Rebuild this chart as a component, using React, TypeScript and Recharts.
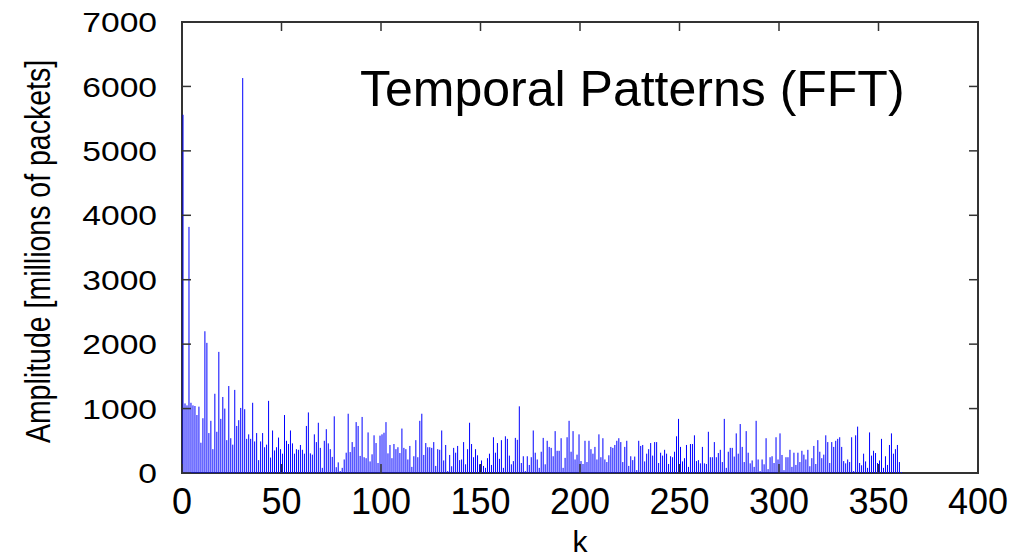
import React from "react";
import { BarChart, Bar, XAxis, YAxis, ReferenceArea, Label } from "recharts";

// FFT amplitude per frequency bin k in strips
const ampK0to52 = [
  5560, 1080, 1050, 3820, 1090, 1050, 1040, 900, 1030, 470, 850, 2200, 2020, 620, 810, 370, 1230, 640,
  1880, 840, 1180, 1000, 510, 1350, 540, 440, 1290, 730, 820, 1010, 6130, 990, 530, 600, 530, 1090,
  490, 620, 200, 490, 620, 400, 440, 1120, 240, 660, 350, 400, 550, 370, 300, 900, 500,
];
const ampK53to106 = [
  450, 660, 460, 300, 370, 360, 435, 360, 300, 730, 940, 305, 285, 600, 480, 780, 390, 80, 500, 680,
  460, 370, 250, 880, 90, 165, 30, 80, 210, 315, 920, 325, 480, 405, 790, 730, 265, 870, 245, 230,
  630, 180, 290, 585, 465, 155, 580, 600, 625, 790, 305, 435, 230, 450,
];
const ampK107to160 = [
  370, 400, 310, 690, 390, 370, 210, 420, 95, 260, 510, 245, 810, 920, 280, 465, 400, 400, 390, 480,
  110, 370, 360, 660, 195, 435, 30, 280, 105, 390, 315, 420, 200, 210, 480, 135, 370, 780, 450, 245,
  370, 275, 135, 195, 110, 80, 230, 300, 125, 555, 315, 465, 220, 510,
];
const ampK161to214 = [
  80, 570, 530, 270, 135, 185, 545, 515, 1035, 155, 260, 30, 260, 125, 245, 660, 315, 210, 80, 330,
  545, 135, 500, 405, 390, 260, 650, 345, 345, 540, 80, 235, 555, 810, 330, 650, 210, 285, 600, 185,
  140, 500, 170, 500, 370, 300, 405, 210, 600, 245, 540, 210, 170, 275,
];
const ampK215to268 = [
  405, 390, 435, 500, 540, 480, 170, 405, 500, 110, 260, 200, 255, 45, 500, 420, 435, 180, 300, 370,
  465, 270, 480, 480, 155, 315, 270, 360, 300, 140, 260, 245, 330, 570, 840, 405, 180, 230, 435, 95,
  450, 450, 585, 185, 200, 150, 405, 150, 140, 640, 245, 245, 480, 245,
];
const ampK269to322 = [
  310, 360, 170, 840, 80, 330, 390, 390, 255, 615, 300, 760, 405, 170, 650, 315, 150, 195, 95, 810,
  210, 30, 210, 135, 540, 60, 245, 260, 155, 555, 210, 615, 280, 45, 245, 245, 360, 95, 315, 125,
  315, 170, 345, 285, 210, 360, 105, 230, 420, 140, 510, 330, 230, 285,
];
const ampK323to361 = [
  585, 480, 155, 480, 405, 500, 530, 555, 405, 185, 150, 210, 170, 555, 30, 585, 720, 155, 120, 300,
  180, 80, 630, 270, 345, 310, 155, 195, 530, 80, 260, 125, 435, 615, 300, 370, 435, 170, 15,
];

const xTicks = [0, 50, 100, 150, 200, 250, 300, 350, 400];
const yTicks = [0, 1000, 2000, 3000, 4000, 5000, 6000, 7000];

const amplitude = [
  ...ampK0to52,
  ...ampK53to106,
  ...ampK107to160,
  ...ampK161to214,
  ...ampK215to268,
  ...ampK269to322,
  ...ampK323to361,
];
const data = amplitude.map((amp, k) => ({ k, amp }));

const W = 1016;
const H = 552;
const Y_W = 174;
const X_H = 87;
const MARGIN = { top: 14, right: 46, left: 0, bottom: 0 };
const PLOT_W = W - Y_W - MARGIN.right;
const PLOT_H = H - MARGIN.top - X_H;
const FONT = '"Liberation Sans", Arial, Helvetica, sans-serif';
const FRAME = "#333";
const TICK_LEN = 9;

function YTick(props: any) {
  const { x, y, payload } = props;
  const ax = x + 25;
  return (
    <g>
      <line x1={ax} y1={y} x2={ax + TICK_LEN} y2={y} stroke={FRAME} strokeWidth={1.5} />
      <line x1={ax + PLOT_W - TICK_LEN} y1={y} x2={ax + PLOT_W} y2={y} stroke={FRAME} strokeWidth={1.5} />
      <text
        transform={`translate(${x},${y}) scale(1.2,1)`}
        textAnchor="end"
        dy="0.36em"
        fontSize={28}
        fontFamily={FONT}
        fill="#000"
      >
        {payload.value}
      </text>
    </g>
  );
}

function XTick(props: any) {
  const { x, y, payload } = props;
  const ay = y - 10;
  return (
    <g>
      <line x1={x} y1={ay} x2={x} y2={ay - TICK_LEN} stroke={FRAME} strokeWidth={1.5} />
      <line x1={x} y1={ay - PLOT_H} x2={x} y2={ay - PLOT_H + TICK_LEN} stroke={FRAME} strokeWidth={1.5} />
      <text x={x} y={ay + 41} textAnchor="middle" fontSize={36} fontFamily={FONT} fill="#000">
        {payload.value}
      </text>
    </g>
  );
}

function YTitle(props: any) {
  const { viewBox } = props;
  const cx = viewBox.x + 30;
  const cy = viewBox.y + viewBox.height / 2 + 4;
  return (
    <text
      transform={`translate(${cx},${cy}) scale(1.25,1) rotate(-90)`}
      textAnchor="middle"
      dy="0.35em"
      fontSize={28.5}
      fontFamily={FONT}
      fill="#000"
    >
      Amplitude [millions of packets]
    </text>
  );
}

function XTitle(props: any) {
  const { viewBox } = props;
  return (
    <text
      x={viewBox.x + viewBox.width / 2}
      y={viewBox.y + 79}
      textAnchor="middle"
      fontSize={30}
      fontFamily={FONT}
      fill="#000"
    >
      k
    </text>
  );
}

// impulse drawn just right of the bin so k=0 clears the frame line
function Impulse(props: any) {
  const { x, y, width, height } = props;
  if (!height) return null;
  return <rect x={x + 1.5} y={y} width={width} height={height} fill="#0000ff" />;
}

export default function App() {
  return (
    <div style={{ position: "relative", width: W, height: H }}>
      <BarChart width={W} height={H} data={data} margin={MARGIN} barCategoryGap={0}>
        <XAxis
          dataKey="k"
          type="number"
          domain={[0, 400]}
          ticks={xTicks}
          height={X_H}
          tickSize={0}
          tickMargin={10}
          tickLine={false}
          axisLine={false}
          tick={<XTick />}
          interval={0}
        >
          <Label content={<XTitle />} />
        </XAxis>
        <YAxis
          type="number"
          domain={[0, 7000]}
          ticks={yTicks}
          width={Y_W}
          tickSize={0}
          tickMargin={25}
          tickLine={false}
          axisLine={false}
          tick={<YTick />}
          interval={0}
        >
          <Label content={<YTitle />} />
        </YAxis>
        <Bar dataKey="amp" fill="#0000ff" barSize={1} shape={<Impulse />} isAnimationActive={false} />
        <ReferenceArea x1={0} x2={400} y1={0} y2={7000} fill="none" stroke={FRAME} strokeWidth={2} />
      </BarChart>
      <svg
        width={W}
        height={H}
        style={{ position: "absolute", left: 0, top: 0, pointerEvents: "none" }}
      >
        <text x={352} y={98} fontSize={50} fontFamily={FONT} fill="#000">
          Temporal Patterns (FFT)
        </text>
      </svg>
    </div>
  );
}
